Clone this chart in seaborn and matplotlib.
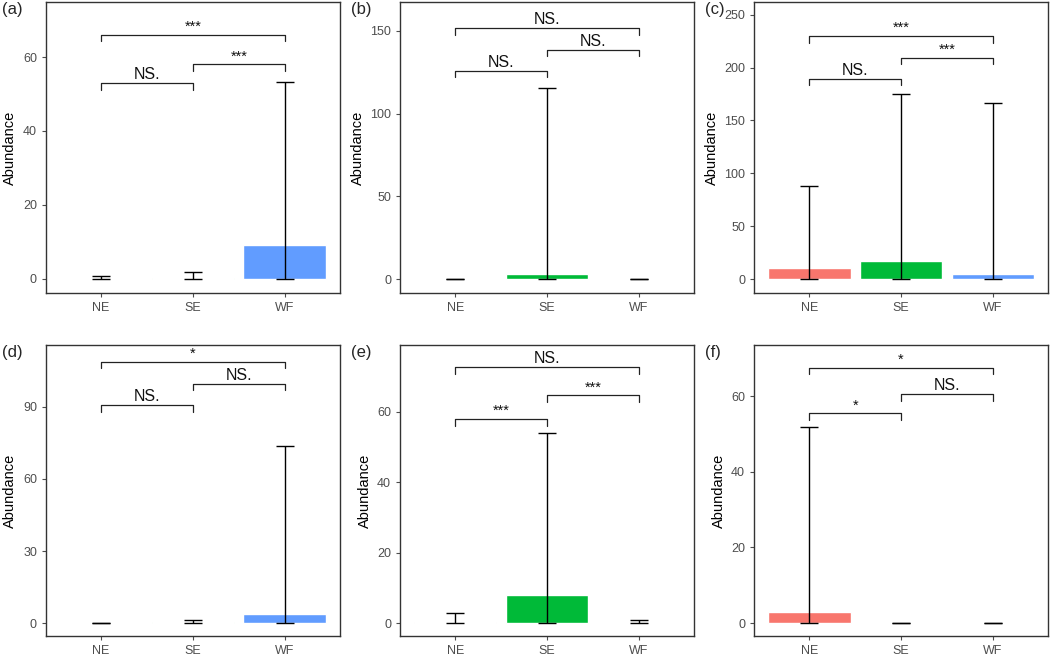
import numpy as np
import matplotlib
matplotlib.use("Agg")
import matplotlib.pyplot as plt
import seaborn as sns

# Sites and ggplot-like colours
sites = ["NE", "SE", "WF"]
site_colors = ["#F8766D", "#00BA38", "#619CFF"]

# Mean abundance (bar height) and upper error bar end, per panel
a_mean = [0.1, 0.2, 9.2]
a_upper = [0.7, 1.9, 53.3]
b_mean = [0.1, 3.3, 0.1]
b_upper = [0.4, 115.8, 0.4]
c_mean = [10.4, 17.0, 4.6]
c_upper = [87.6, 174.6, 166.8]
d_mean = [0.0, 0.3, 3.8]
d_upper = [0.0, 1.5, 73.7]
e_mean = [0.3, 8.0, 0.1]
e_upper = [2.8, 54.0, 0.8]
f_mean = [2.9, 0.0, 0.0]
f_upper = [51.9, 0.0, 0.0]

# Significance brackets: pairs NE-SE, SE-WF, NE-WF
pairs = [(0, 1), (1, 2), (0, 2)]
a_brk = [52.9, 58.0, 66.1]
a_sig = ["NS.", "***", "***"]
b_brk = [125.9, 138.5, 151.6]
b_sig = ["NS.", "NS.", "NS."]
c_brk = [189.2, 209.4, 229.5]
c_sig = ["NS.", "***", "***"]
d_brk = [90.6, 99.4, 108.6]
d_sig = ["NS.", "NS.", "*"]
e_brk = [57.8, 64.6, 72.6]
e_sig = ["***", "***", "NS."]
f_brk = [55.4, 60.5, 67.5]
f_sig = ["*", "NS.", "*"]

panels = [
    ("(a)", a_mean, a_upper, a_brk, a_sig, (-3.8, 74.9), [0, 20, 40, 60]),
    ("(b)", b_mean, b_upper, b_brk, b_sig, (-8.3, 167.5), [0, 50, 100, 150]),
    ("(c)", c_mean, c_upper, c_brk, c_sig, (-13, 262), [0, 50, 100, 150, 200, 250]),
    ("(d)", d_mean, d_upper, d_brk, d_sig, (-5.3, 115.6), [0, 30, 60, 90]),
    ("(e)", e_mean, e_upper, e_brk, e_sig, (-3.6, 78.9), [0, 20, 40, 60]),
    ("(f)", f_mean, f_upper, f_brk, f_sig, (-3.4, 73.5), [0, 20, 40, 60]),
]

sns.set_style("white")
plt.rcParams["font.family"] = ["Liberation Sans", "DejaVu Sans"]

fig, axes = plt.subplots(2, 3, figsize=(10.52, 6.57), dpi=100)
fig.subplots_adjust(left=0.0437, right=0.9962, top=0.997, bottom=0.032,
                    wspace=0.205, hspace=0.179)

for ax, (tag, means, upper, brk, sig, ylim, yticks) in zip(axes.flat, panels):
    means = np.array(means)
    upper = np.array(upper)
    sns.barplot(x=sites, y=means, hue=sites, palette=site_colors, ax=ax,
                width=0.9, saturation=1, legend=False)
    x = np.arange(len(sites))
    ax.errorbar(x, means, yerr=[means - 0, upper - means], fmt="none",
                ecolor="black", elinewidth=1, capsize=6.6, capthick=1, zorder=5)

    span = ylim[1] - ylim[0]
    tick = 0.022 * span
    for (i, j), h, s in zip(pairs, brk, sig):
        ax.plot([i, i, j, j], [h - tick, h, h, h - tick], color="#222222", lw=0.9)
        ax.text((i + j) / 2, h + 0.004 * span, s, ha="center", va="bottom",
                fontsize=11.5 if s == "NS." else 10.5, color="#111111")

    ax.set_xlim(-0.6, 2.6)
    ax.set_ylim(*ylim)
    ax.set_yticks(yticks)
    ax.set_xlabel("")
    ax.set_ylabel("Abundance", fontsize=10.5, color="black", labelpad=4)
    ax.tick_params(axis="both", direction="out", length=3, width=0.8,
                   colors="#4D4D4D", labelsize=9, bottom=True, left=True)
    for sp in ax.spines.values():
        sp.set_color("#333333")
        sp.set_linewidth(1)

    bb = ax.get_position()
    fig.text(0.002 if bb.x0 < 0.1 else bb.x0 - 0.047, bb.y1 - 0.012, tag,
             fontsize=12, ha="left", va="center")

fig.savefig("out.png", dpi=100)
